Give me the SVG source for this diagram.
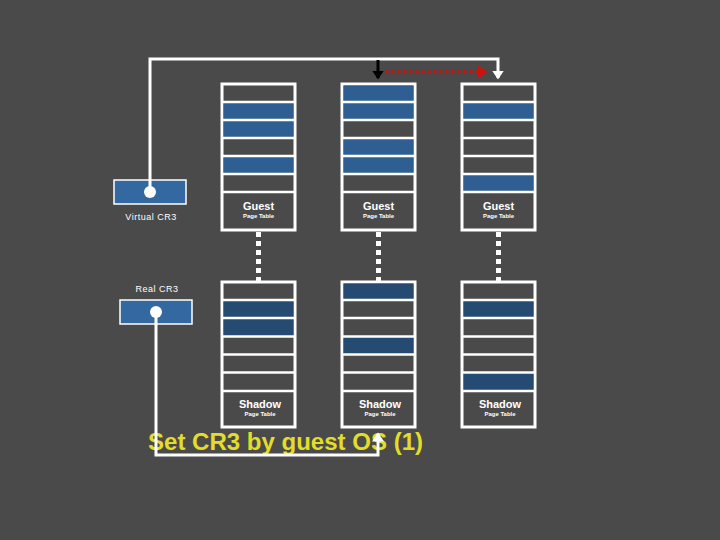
<svg xmlns="http://www.w3.org/2000/svg" width="720" height="540" viewBox="0 0 720 540">
<defs>
<style>
.bg{fill:#4a4a4a}
.tbl{fill:#4a4a4a;stroke:#ffffff;stroke-width:3}
.sep{stroke:#ffffff;stroke-width:2.5}
.gb{fill:#2f5f92}
.sb{fill:#264b73}
.cr{fill:#3468a0;stroke:#ffffff;stroke-width:1.5}
.dot{fill:#ffffff}
.wl{fill:none;stroke:#ffffff;stroke-width:3}
.dd{fill:none;stroke:#ffffff;stroke-width:5;stroke-dasharray:5 4}
.t1{font-family:"Liberation Sans",Arial,sans-serif;font-size:11px;font-weight:bold;fill:#ffffff;text-anchor:middle}
.t2{font-family:"Liberation Sans",Arial,sans-serif;font-size:6px;font-weight:bold;fill:#ffffff;text-anchor:middle}
.lb{font-family:"Liberation Sans",Arial,sans-serif;font-size:9px;fill:#ffffff;text-anchor:middle;letter-spacing:0.5px}
.ti{font-family:"Liberation Sans",Arial,sans-serif;font-size:24px;font-weight:bold;fill:#e3dd2a}
</style>
<marker id="aw" markerWidth="4" markerHeight="4" refX="2.5" refY="2" orient="auto" markerUnits="strokeWidth"><path d="M0,0 L3,2 L0,4 z" fill="#ffffff"/></marker>
<marker id="ab" markerWidth="4" markerHeight="4" refX="2.5" refY="2" orient="auto" markerUnits="strokeWidth"><path d="M0,0 L3,2 L0,4 z" fill="#000000"/></marker>
<marker id="ar" markerWidth="4" markerHeight="4" refX="2.5" refY="2" orient="auto" markerUnits="strokeWidth"><path d="M0,0 L3,2 L0,4 z" fill="#cc1111"/></marker>
</defs>
<rect class="bg" x="0" y="0" width="720" height="540"/>

<g id="virtual-cr3">
<rect class="cr" x="114" y="180" width="72" height="24"/>
<text class="lb" x="151" y="220">Virtual CR3</text>
</g>
<g id="real-cr3">
<rect class="cr" x="120" y="300" width="72" height="24"/>
<text class="lb" x="157" y="292">Real CR3</text>
</g>

<g id="guest-1">
<rect class="tbl" x="222" y="84" width="73" height="146"/>
<rect class="gb" x="223.5" y="102" width="70" height="18"/>
<rect class="gb" x="223.5" y="120" width="70" height="18"/>
<rect class="gb" x="223.5" y="156" width="70" height="18"/>
<path class="sep" d="M222 102H295M222 120H295M222 138H295M222 156H295M222 174H295M222 192H295"/>
<text class="t1" x="258.5" y="210">Guest</text>
<text class="t2" x="258.5" y="218">Page Table</text>
</g>
<g id="guest-2">
<rect class="tbl" x="342" y="84" width="73" height="146"/>
<rect class="gb" x="343.5" y="85.5" width="70" height="16.5"/>
<rect class="gb" x="343.5" y="102" width="70" height="18"/>
<rect class="gb" x="343.5" y="138" width="70" height="18"/>
<rect class="gb" x="343.5" y="156" width="70" height="18"/>
<path class="sep" d="M342 102H415M342 120H415M342 138H415M342 156H415M342 174H415M342 192H415"/>
<text class="t1" x="378.5" y="210">Guest</text>
<text class="t2" x="378.5" y="218">Page Table</text>
</g>
<g id="guest-3">
<rect class="tbl" x="462" y="84" width="73" height="146"/>
<rect class="gb" x="463.5" y="102" width="70" height="18"/>
<rect class="gb" x="463.5" y="174" width="70" height="18"/>
<path class="sep" d="M462 102H535M462 120H535M462 138H535M462 156H535M462 174H535M462 192H535"/>
<text class="t1" x="498.5" y="210">Guest</text>
<text class="t2" x="498.5" y="218">Page Table</text>
</g>

<g id="shadow-1">
<rect class="tbl" x="222" y="282" width="73" height="145"/>
<rect class="sb" x="223.5" y="300" width="70" height="18"/>
<rect class="sb" x="223.5" y="318" width="70" height="18.5"/>
<path class="sep" d="M222 300H295M222 318H295M222 336.5H295M222 354.5H295M222 372.5H295M222 391H295"/>
<text class="t1" x="260" y="408">Shadow</text>
<text class="t2" x="260" y="416">Page Table</text>
</g>
<g id="shadow-2">
<rect class="tbl" x="342" y="282" width="73" height="145"/>
<rect class="sb" x="343.5" y="283.5" width="70" height="16.5"/>
<rect class="sb" x="343.5" y="336.5" width="70" height="18"/>
<path class="sep" d="M342 300H415M342 318H415M342 336.5H415M342 354.5H415M342 372.5H415M342 391H415"/>
<text class="t1" x="380" y="408">Shadow</text>
<text class="t2" x="380" y="416">Page Table</text>
</g>
<g id="shadow-3">
<rect class="tbl" x="462" y="282" width="73" height="145"/>
<rect class="sb" x="463.5" y="300" width="70" height="18"/>
<rect class="sb" x="463.5" y="372.5" width="70" height="18.5"/>
<path class="sep" d="M462 300H535M462 318H535M462 336.5H535M462 354.5H535M462 372.5H535M462 391H535"/>
<text class="t1" x="500" y="408">Shadow</text>
<text class="t2" x="500" y="416">Page Table</text>
</g>

<text id="title" class="ti" x="148" y="450" textLength="275" lengthAdjust="spacingAndGlyphs">Set CR3 by guest OS (1)</text>

<g id="connectors">
<path class="dd" d="M258.5 232V281"/>
<path class="dd" d="M378.5 232V281"/>
<path class="dd" d="M498.5 232V281"/>
<path class="wl" d="M150 192V59H498V78" marker-end="url(#aw)"/>
<circle class="dot" cx="150" cy="192" r="6"/>
<path d="M378 60V78" fill="none" stroke="#000000" stroke-width="3" marker-end="url(#ab)"/>
<path d="M385 72H486" fill="none" stroke="#cc1111" stroke-width="3.5" stroke-dasharray="3.5 2.5" marker-end="url(#ar)"/>
<path class="wl" d="M156 312V455H378V434" marker-end="url(#aw)"/>
<circle class="dot" cx="156" cy="312" r="6"/>
</g>
</svg>
